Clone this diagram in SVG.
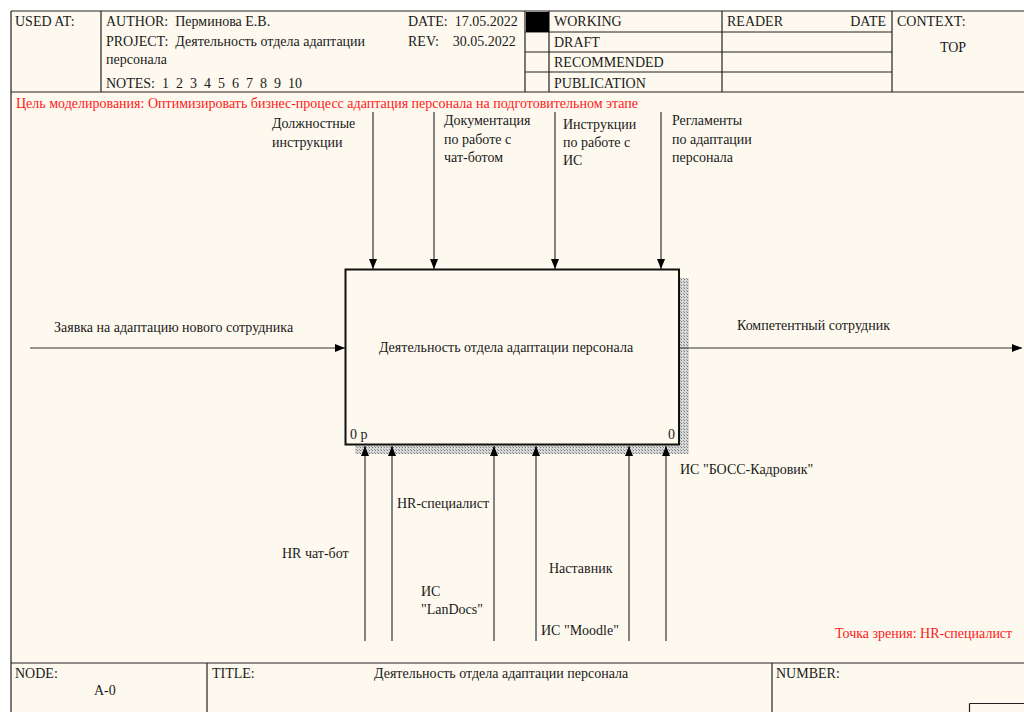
<svg xmlns="http://www.w3.org/2000/svg" width="1024" height="712" viewBox="0 0 1024 712">
<defs>
<style>
.t{font-family:"Liberation Serif","Times New Roman",serif;font-size:14px;fill:#1a1a1a}
.h{font-family:"Liberation Serif","Times New Roman",serif;font-size:14px;fill:#1a1a1a;white-space:pre}
.r{fill:#ff1a1a}
.ln{stroke:#222;stroke-width:1.2;fill:none}
.c{stroke:#333;stroke-width:1.2;fill:none}
</style>
<pattern id="hatch" width="3" height="3" patternUnits="userSpaceOnUse">
<rect width="3" height="3" fill="#d8d8d8"/>
<rect width="1" height="1" fill="#777"/>
<rect x="2" y="2" width="1" height="1" fill="#999"/>
</pattern>
<marker id="ah" viewBox="0 0 10 8" refX="10" refY="4" markerWidth="10" markerHeight="8" markerUnits="userSpaceOnUse" orient="auto">
<path d="M0,0 L10,4 L0,8 Z" fill="#000"/>
</marker>
</defs>
<rect width="1024" height="712" fill="#fff"/>
<rect x="11" y="11" width="1020" height="710" fill="#fef9ef"/>
<g id="header">
<path class="ln" d="M11,11 H1024 M11,11 V712 M11,92 H1024 M101,11 V92 M525,11 V92 M549,11 V92 M722,11 V92 M892,11 V92 M525,32 H892 M525,52 H892 M525,72 H892"/>
<rect x="526" y="12" width="23" height="20" fill="#000"/>
<text class="h" x="15" y="26">USED AT:</text>
<text class="h" x="106" y="26" xml:space="preserve">AUTHOR:  Перминова Е.В.</text>
<text class="h" x="106" y="46" xml:space="preserve">PROJECT:  Деятельность отдела адаптации</text>
<text class="h" x="106" y="64">персонала</text>
<text class="h" x="106" y="88" xml:space="preserve">NOTES:  1  2  3  4  5  6  7  8  9  10</text>
<text class="h" x="408" y="26" xml:space="preserve">DATE:  17.05.2022</text>
<text class="h" x="408" y="46" xml:space="preserve">REV:    30.05.2022</text>
<text class="h" x="554" y="26">WORKING</text>
<text class="h" x="554" y="47">DRAFT</text>
<text class="h" x="554" y="67">RECOMMENDED</text>
<text class="h" x="554" y="88">PUBLICATION</text>
<text class="h" x="727" y="26">READER</text>
<text class="h" x="886" y="26" text-anchor="end">DATE</text>
<text class="h" x="897" y="26">CONTEXT:</text>
<text class="h" x="953" y="52" text-anchor="middle">TOP</text>
</g>
<text class="t r" x="16" y="108">Цель моделирования: Оптимизировать бизнес-процесс адаптация персонала на подготовительном этапе</text>
<g id="A0">
<rect x="679" y="278" width="10" height="176" fill="url(#hatch)"/>
<rect x="355" y="444" width="334" height="10" fill="url(#hatch)"/>
<rect x="345.5" y="269.5" width="333.5" height="175" fill="#fef9ef" stroke="#111" stroke-width="2"/>
<text class="t" x="506" y="352" text-anchor="middle">Деятельность отдела адаптации персонала</text>
<text class="t" x="350" y="439">0 р</text>
<text class="t" x="668" y="439">0</text>
</g>
<g id="connectors">
<path class="c" marker-end="url(#ah)" d="M373,112 V269"/>
<path class="c" marker-end="url(#ah)" d="M434,112 V269"/>
<path class="c" marker-end="url(#ah)" d="M555,112 V269"/>
<path class="c" marker-end="url(#ah)" d="M661,112 V269"/>
<path class="c" marker-end="url(#ah)" d="M30,348 H345"/>
<path class="c" marker-end="url(#ah)" d="M680,348 H1022"/>
<path class="c" marker-end="url(#ah)" d="M365,641 V446"/>
<path class="c" marker-end="url(#ah)" d="M392,641 V446"/>
<path class="c" marker-end="url(#ah)" d="M494,641 V446"/>
<path class="c" marker-end="url(#ah)" d="M536,641 V446"/>
<path class="c" marker-end="url(#ah)" d="M629,641 V446"/>
<path class="c" marker-end="url(#ah)" d="M666,641 V446"/>
</g>
<g id="labels">
<text class="t" x="272" y="128">Должностные</text>
<text class="t" x="272" y="147">инструкции</text>
<text class="t" x="444" y="125">Документация</text>
<text class="t" x="444" y="144">по работе с</text>
<text class="t" x="444" y="162">чат-ботом</text>
<text class="t" x="563" y="129">Инструкции</text>
<text class="t" x="563" y="147">по работе с</text>
<text class="t" x="563" y="165">ИС</text>
<text class="t" x="672" y="125">Регламенты</text>
<text class="t" x="672" y="144">по адаптации</text>
<text class="t" x="672" y="162">персонала</text>
<text class="t" x="54" y="332">Заявка на адаптацию нового сотрудника</text>
<text class="t" x="737" y="330">Компетентный сотрудник</text>
<text class="t" x="680" y="474">ИС "БОСС-Кадровик"</text>
<text class="t" x="397" y="508">HR-специалист</text>
<text class="t" x="282" y="558">HR чат-бот</text>
<text class="t" x="421" y="596">ИС</text>
<text class="t" x="421" y="614">"LanDocs"</text>
<text class="t" x="549" y="573">Наставник</text>
<text class="t" x="541" y="635">ИС "Moodle"</text>
<text class="t r" x="835" y="638">Точка зрения: HR-специалист</text>
</g>
<g id="footer">
<path class="ln" d="M11,663 H1024 M207,663 V712 M772,663 V712 M969.5,703.5 H1024 M969.5,703.5 V712"/>
<text class="t" x="15" y="678">NODE:</text>
<text class="t" x="94" y="695">A-0</text>
<text class="t" x="212" y="678">TITLE:</text>
<text class="t" x="374" y="678">Деятельность отдела адаптации персонала</text>
<text class="t" x="776" y="678">NUMBER:</text>
</g>
</svg>
